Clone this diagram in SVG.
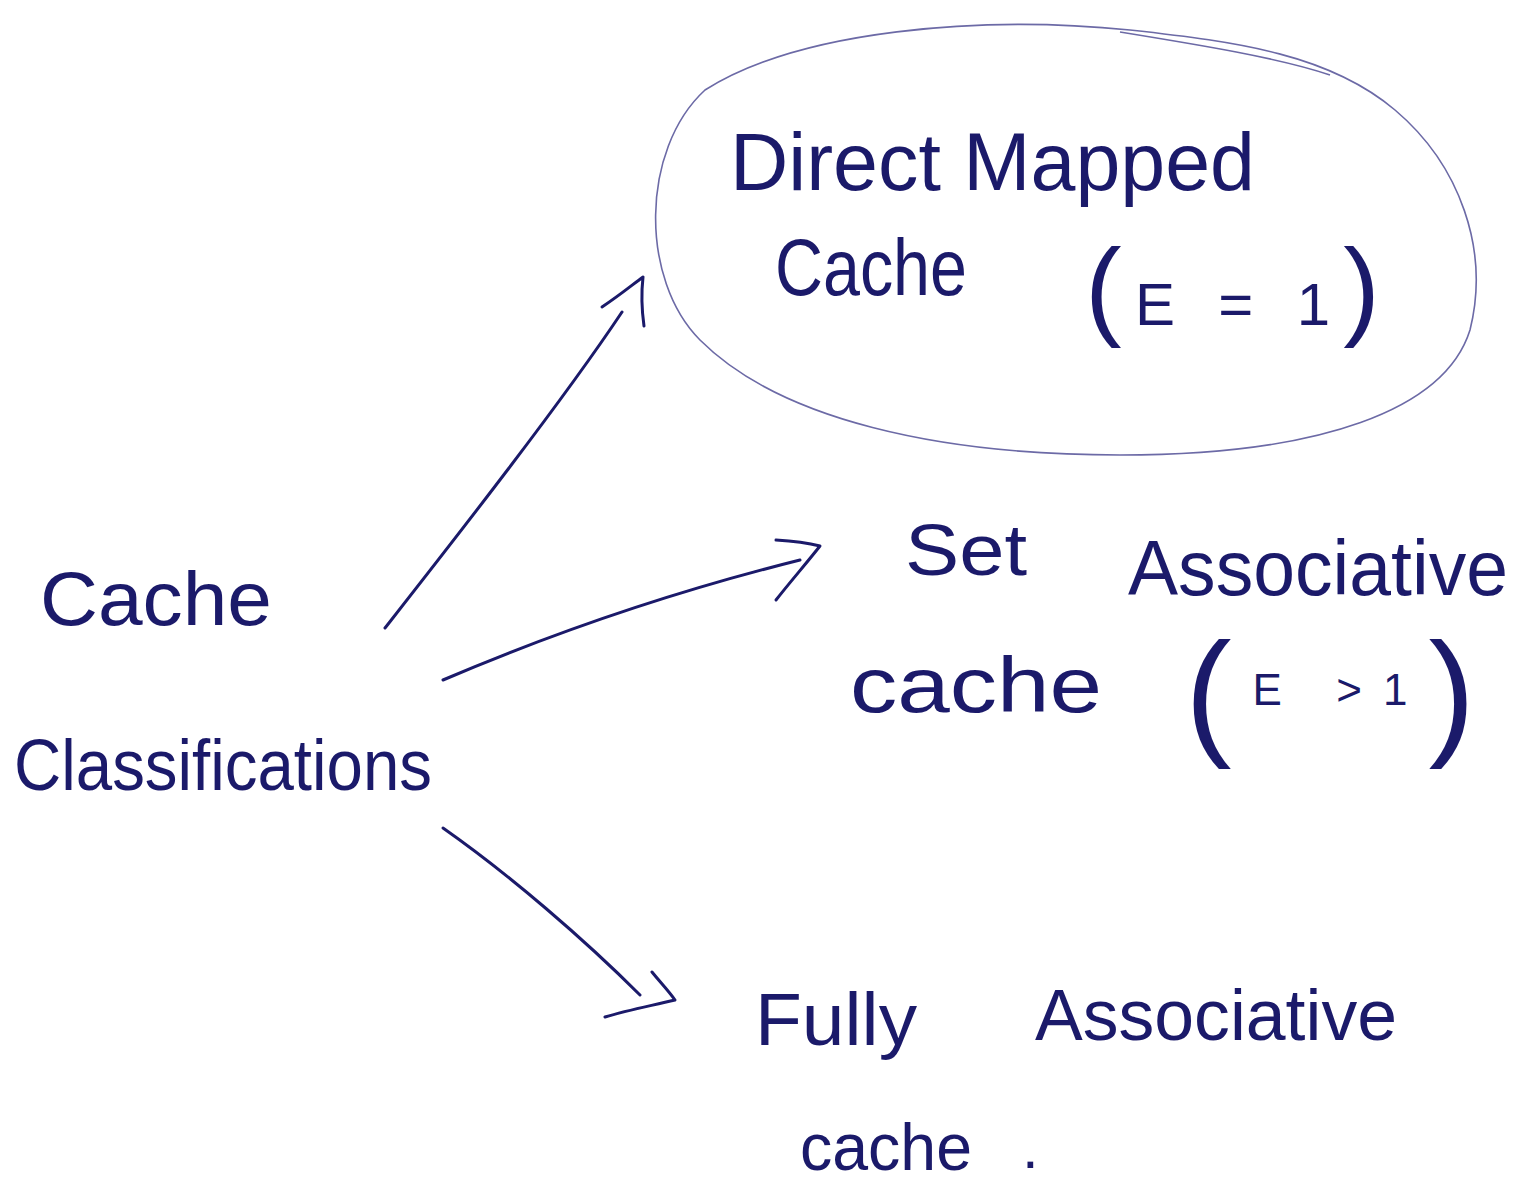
<svg xmlns="http://www.w3.org/2000/svg" width="1528" height="1182" viewBox="0 0 1528 1182">
<style>
.t{font-family:"Liberation Sans","DejaVu Sans",sans-serif;fill:#1b1a6a;}
.p{font-weight:100;}
.c{fill:none;stroke:#1b1a6a;stroke-width:3;stroke-linecap:round;stroke-linejoin:round;}
.e{fill:none;stroke:#6c6aa6;stroke-width:1.6;}
</style>
<rect width="1528" height="1182" fill="#ffffff"/>
<g id="node-classifications">
<text class="t" x="40" y="625" font-size="76" textLength="232" lengthAdjust="spacingAndGlyphs">Cache</text>
<text class="t" x="14" y="790" font-size="72" textLength="418" lengthAdjust="spacingAndGlyphs">Classifications</text>
</g>
<g id="node-direct-mapped">
<path class="e" d="M705,90 C800,30 980,15 1130,30 C1240,42 1330,55 1395,110 C1460,165 1490,250 1470,330 C1445,410 1320,455 1120,455 C940,455 780,420 700,340 C640,280 640,150 705,90 Z"/>
<path class="e" d="M1120,32 C1200,45 1280,58 1330,75"/>
<text class="t" x="730" y="190" font-size="82" textLength="525" lengthAdjust="spacingAndGlyphs">Direct Mapped</text>
<text class="t" x="775" y="295" font-size="80" textLength="192" lengthAdjust="spacingAndGlyphs">Cache</text>
<text class="t" x="1085" y="325" textLength="295" lengthAdjust="spacing"><tspan font-size="110">(</tspan><tspan font-size="60">E = 1</tspan><tspan font-size="110">)</tspan></text>
</g>
<g id="node-set-associative">
<text class="t" x="905" y="575" font-size="72" textLength="122" lengthAdjust="spacingAndGlyphs">Set</text>
<text class="t" x="1128" y="595" font-size="78" textLength="380" lengthAdjust="spacingAndGlyphs">Associative</text>
<text class="t" x="850" y="712" font-size="78" textLength="252" lengthAdjust="spacingAndGlyphs">cache</text>
<text class="t" x="1185" y="740" textLength="290" lengthAdjust="spacing"><tspan font-size="140">(</tspan><tspan font-size="44" dy="-35">E &gt;1</tspan><tspan font-size="140" dy="35">)</tspan></text>
</g>
<g id="node-fully-associative">
<text class="t" x="755" y="1045" font-size="74" textLength="162" lengthAdjust="spacingAndGlyphs">Fully</text>
<text class="t" x="1035" y="1040" font-size="72" textLength="362" lengthAdjust="spacingAndGlyphs">Associative</text>
<text class="t" x="800" y="1170" font-size="66" textLength="172" lengthAdjust="spacingAndGlyphs">cache</text>
<text class="t" x="1022" y="1168" font-size="60">.</text>
</g>
<g id="connectors">
<path class="c" d="M385,628 C450,545 560,405 622,312"/>
<path class="c" d="M602,307 C620,295 632,285 643,277 C641,295 642,312 644,326"/>
<path class="c" d="M443,680 C560,630 680,590 800,560"/>
<path class="c" d="M776,540 C792,541 808,543 820,546 C805,565 790,582 776,600"/>
<path class="c" d="M443,828 C510,875 585,940 640,995"/>
<path class="c" d="M652,972 C660,982 668,990 675,1000 C650,1006 628,1010 605,1017"/>
</g>
</svg>
